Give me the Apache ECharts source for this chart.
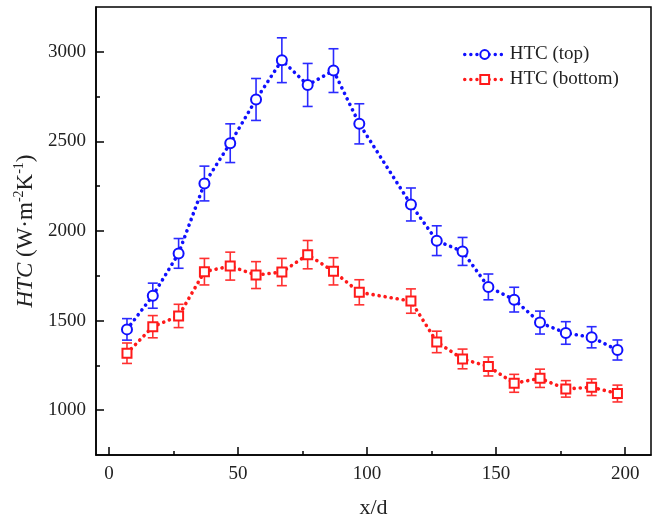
<!DOCTYPE html>
<html>
<head>
<meta charset="utf-8">
<script src="https://cdn.jsdelivr.net/npm/echarts@6/dist/echarts.min.js"></script>
<style>
html, body { margin: 0; padding: 0; background: #fff; }
#chart { width: 657px; height: 524px; }
</style>
</head>
<body>
<div id="chart"></div>
<script>
// 数据：x/d 位置与两条 HTC 曲线（含误差）
const xd = [7, 17, 27, 37, 47, 57, 67, 77, 87, 97, 117, 127, 137, 147, 157, 167, 177, 187, 197];
const htcTop = [1451, 1639, 1875, 2265, 2490, 2734, 2953, 2815, 2895, 2598, 2148, 1946, 1886, 1688, 1617, 1489, 1431, 1407, 1336];
const htcTopErr = [60, 70, 83, 97, 108, 117, 125, 120, 122, 112, 92, 83, 78, 72, 69, 64, 63, 59, 56];
const htcBottom = [1318, 1466, 1526, 1773, 1804, 1754, 1771, 1868, 1775, 1658, 1609, 1381, 1286, 1244, 1150, 1178, 1119, 1128, 1093];
const htcBottomErr = [57, 62, 65, 74, 78, 75, 76, 79, 76, 70, 68, 60, 55, 53, 50, 51, 46, 46, 47];

const xMajor = [0, 50, 100, 150, 200];
const xMinor = [25, 75, 125, 175];
const yMajor = [1000, 1500, 2000, 2500, 3000];
const yMinor = [1250, 1750, 2250, 2750];

const BLUE = '#1010ff';
const RED = '#ff1a1a';
const FONT = 'Liberation Serif';

let chart = echarts.init(document.getElementById('chart'), null, { renderer: 'canvas' });

// 误差棒数据 [x, low, high]
function errData(vals, errs) {
    return xd.map((x, i) => [x, vals[i] - errs[i], vals[i] + errs[i]]);
}

// 误差棒绘制：竖线 + 上下横帽
function renderErrorBar(color) {
    return function (params, api) {
        const x = api.value(0);
        const lo = api.coord([x, api.value(1)]);
        const hi = api.coord([x, api.value(2)]);
        const hw = 5;
        const style = { stroke: color, lineWidth: 1.6 };
        return {
            type: 'group',
            children: [
                { type: 'line', shape: { x1: lo[0], y1: lo[1], x2: hi[0], y2: hi[1] }, style: style },
                { type: 'line', shape: { x1: lo[0] - hw, y1: lo[1], x2: lo[0] + hw, y2: lo[1] }, style: style },
                { type: 'line', shape: { x1: hi[0] - hw, y1: hi[1], x2: hi[0] + hw, y2: hi[1] }, style: style }
            ]
        };
    };
}

const axisFont = { fontFamily: FONT, fontSize: 19, color: '#222' };
const dotted = { type: [0.1, 6], cap: 'round', width: 3.6 };
const plain = v => String(v);

const option = {
    animation: false,
    backgroundColor: '#fff',
    grid: {
        left: 96, right: 6, top: 7, bottom: 68,
        show: true, borderColor: '#000', borderWidth: 1.5, backgroundColor: 'transparent'
    },
    legend: {
        data: ['HTC (top)', 'HTC (bottom)'],
        orient: 'vertical',
        left: 463, top: 45, padding: 0,
        itemWidth: 40, itemHeight: 11, itemGap: 6,
        lineStyle: { width: 3.4 },
        textStyle: { fontFamily: FONT, fontSize: 19, color: '#222' }
    },
    xAxis: [
        {
            type: 'value', min: -5, max: 210,
            name: 'x/d', nameLocation: 'middle', nameGap: 42,
            nameTextStyle: { fontFamily: FONT, fontSize: 22, color: '#222' },
            axisLine: { show: true, onZero: false, lineStyle: { color: '#000', width: 1.5 } },
            axisTick: { show: true, inside: true, length: 8, customValues: xMajor, lineStyle: { color: '#000', width: 1.5 } },
            axisLabel: { customValues: xMajor, margin: 10, formatter: plain, ...axisFont },
            splitLine: { show: false }
        },
        {
            type: 'value', min: -5, max: 210, position: 'bottom',
            axisLine: { show: false, onZero: false },
            axisTick: { show: true, inside: true, length: 4, customValues: xMinor, lineStyle: { color: '#000', width: 1.5 } },
            axisLabel: { show: false },
            splitLine: { show: false }
        }
    ],
    yAxis: [
        {
            type: 'value', min: 750, max: 3250,
            name: '{i|HTC} (W·m{sup|-2}K{sup|-1})',
            nameLocation: 'middle', nameGap: 55, nameRotate: 90,
            nameTextStyle: {
                fontFamily: FONT, fontSize: 23, color: '#222',
                rich: {
                    i: { fontFamily: FONT, fontSize: 23, fontStyle: 'italic', color: '#222' },
                    sup: { fontFamily: FONT, fontSize: 14, color: '#222', padding: [0, 0, 13, 0] }
                }
            },
            axisLine: { show: true, onZero: false, lineStyle: { color: '#000', width: 1.5 } },
            axisTick: { show: true, inside: true, length: 8, customValues: yMajor, lineStyle: { color: '#000', width: 1.5 } },
            axisLabel: { customValues: yMajor, margin: 10, formatter: plain, ...axisFont },
            splitLine: { show: false }
        },
        {
            type: 'value', min: 750, max: 3250, position: 'left',
            axisLine: { show: false, onZero: false },
            axisTick: { show: true, inside: true, length: 4, customValues: yMinor, lineStyle: { color: '#000', width: 1.5 } },
            axisLabel: { show: false },
            splitLine: { show: false }
        }
    ],
    series: [
        {
            name: 'err-top', type: 'custom', z: 1,
            renderItem: renderErrorBar('#2a2aff'),
            data: errData(htcTop, htcTopErr)
        },
        {
            name: 'err-bottom', type: 'custom', z: 1,
            renderItem: renderErrorBar('#ff3030'),
            data: errData(htcBottom, htcBottomErr)
        },
        {
            name: 'HTC (top)', type: 'line', z: 3,
            data: xd.map((x, i) => [x, htcTop[i]]),
            symbol: 'emptyCircle', symbolSize: 10,
            itemStyle: { color: BLUE, borderColor: BLUE, borderWidth: 2.2 },
            lineStyle: { color: BLUE, ...dotted }
        },
        {
            name: 'HTC (bottom)', type: 'line', z: 3,
            data: xd.map((x, i) => [x, htcBottom[i]]),
            symbol: 'emptyRect', symbolSize: 9,
            itemStyle: { color: RED, borderColor: RED, borderWidth: 2 },
            lineStyle: { color: RED, ...dotted }
        }
    ]
};

chart.setOption(option);
</script>
</body>
</html>
